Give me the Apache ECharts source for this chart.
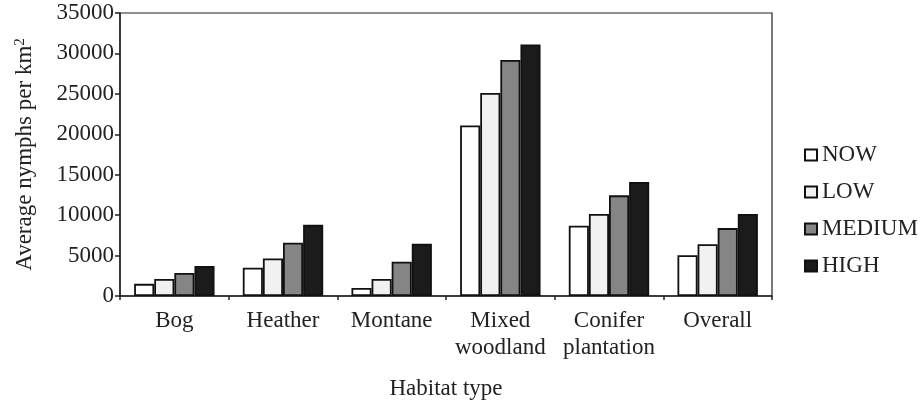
<!DOCTYPE html>
<html>
<head>
<meta charset="utf-8">
<script src="https://cdn.jsdelivr.net/npm/echarts@6/dist/echarts.min.js"></script>
<style>
  html, body { margin: 0; padding: 0; background: #fff; }
  #chart { width: 923px; height: 405px; }
</style>
</head>
<body>
<div id="chart"></div>
<script>
  // habitat categories and scenario values (nymphs per km2)
  var habitats = ['Bog', 'Heather', 'Montane', 'Mixed\nwoodland', 'Conifer\nplantation', 'Overall'];
  var seriesNames = ['NOW', 'LOW', 'MEDIUM', 'HIGH'];
  var nowVals = [1500, 3500, 1000, 21100, 8700, 5050];
  var lowVals = [2100, 4650, 2100, 25100, 10150, 6400];
  var mediumVals = [2850, 6600, 4250, 29200, 12450, 8400];
  var highVals = [3700, 8800, 6450, 31100, 14100, 10150];
  var yTicks = { min: 0, max: 35000, step: 5000 };

  var font = 'Liberation Serif, Times New Roman, serif';
  var fills = ['#ffffff', '#f1f1f1', '#858585', '#1b1b1b'];
  var values = [nowVals, lowVals, mediumVals, highVals];

  var myChart = echarts.init(document.getElementById('chart'), null, { renderer: 'canvas' });

  var series = seriesNames.map(function (name, i) {
    return {
      name: name,
      type: 'bar',
      barGap: 0,
      barCategoryGap: '26%',
      itemStyle: { color: fills[i], borderColor: '#111', borderWidth: 1.8 },
      data: values[i]
    };
  });

  myChart.setOption({
    animation: false,
    textStyle: { fontFamily: font, color: '#222' },
    grid: {
      show: true,
      left: 120,
      right: 151,
      top: 13,
      bottom: 107,
      borderColor: '#222',
      borderWidth: 1.2
    },
    legend: {
      orient: 'vertical',
      left: 799,
      top: 137,
      icon: 'rect',
      itemWidth: 12,
      itemHeight: 11,
      itemGap: 11,
      textStyle: { fontFamily: font, fontSize: 23, color: '#222', lineHeight: 26 },
      data: seriesNames
    },
    xAxis: {
      type: 'category',
      data: habitats,
      name: 'Habitat type',
      nameLocation: 'middle',
      nameGap: 81,
      nameTextStyle: { fontFamily: font, fontSize: 23, color: '#222' },
      axisLine: { lineStyle: { color: '#222', width: 1.5 } },
      axisTick: { show: true, length: 4, lineStyle: { color: '#222', width: 1.5 } },
      axisLabel: { interval: 0, fontFamily: font, fontSize: 23, color: '#222', margin: 11, lineHeight: 27 }
    },
    yAxis: {
      type: 'value',
      min: yTicks.min,
      max: yTicks.max,
      interval: yTicks.step,
      name: '{n|Average nymphs per km}{s|2}',
      nameLocation: 'middle',
      nameGap: 84,
      nameRotate: 90,
      nameTextStyle: {
        rich: {
          n: { fontFamily: font, fontSize: 23, color: '#222' },
          s: { fontFamily: font, fontSize: 15, color: '#222', verticalAlign: 'top', padding: [0, 0, 8, 0] }
        }
      },
      splitLine: { show: false },
      axisLine: { show: true, lineStyle: { color: '#222', width: 1.5 } },
      axisTick: { show: true, length: 5, lineStyle: { color: '#222', width: 1.5 } },
      axisLabel: {
        fontFamily: font, fontSize: 23, color: '#222', margin: 6,
        formatter: function (v) { return String(v); }
      }
    },
    series: series
  });
</script>
</body>
</html>
